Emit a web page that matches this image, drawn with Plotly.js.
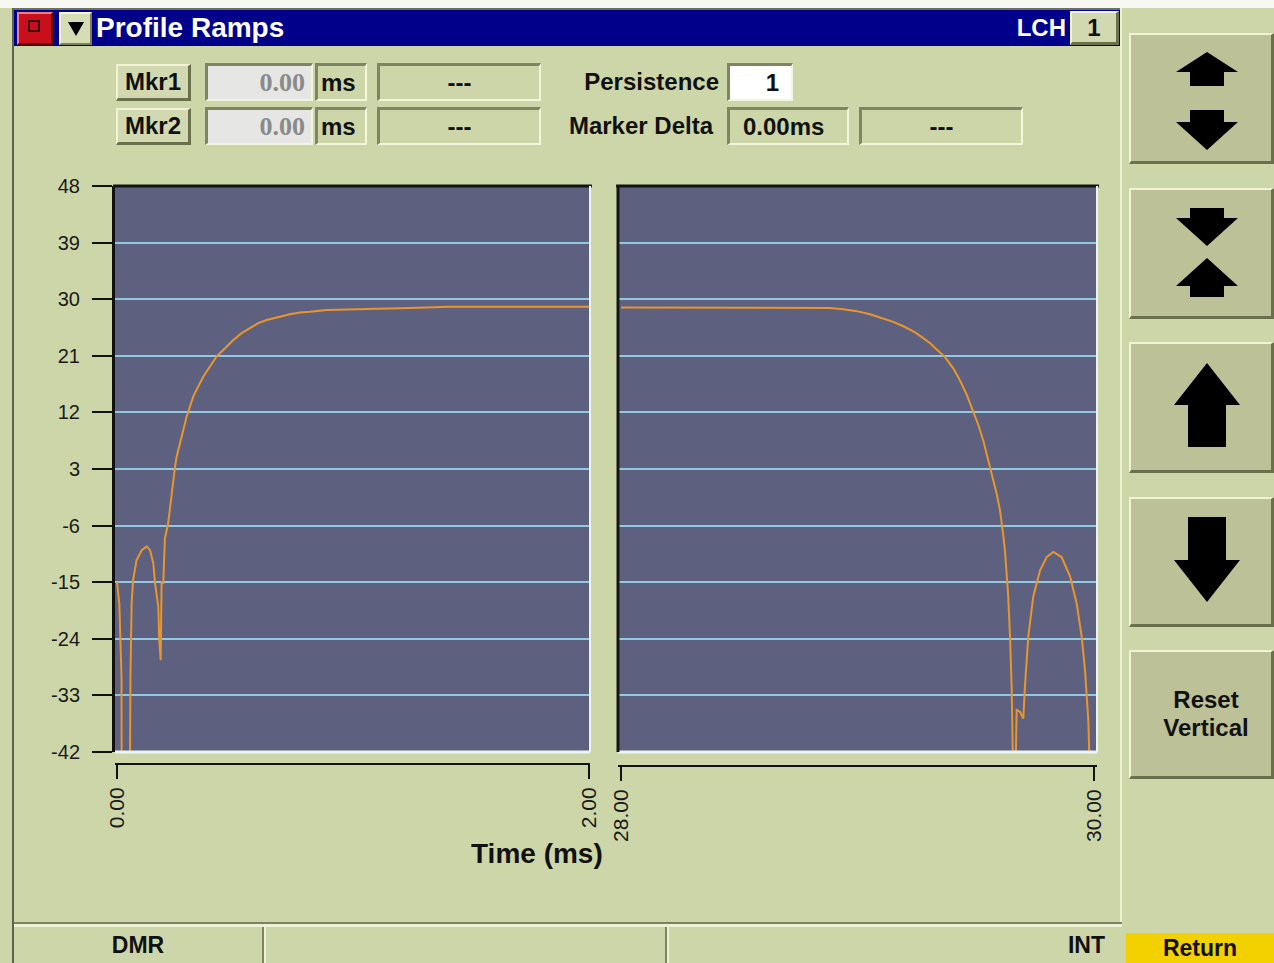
<!DOCTYPE html>
<html><head><meta charset="utf-8">
<script src="https://cdn.plot.ly/plotly-3.0.1.min.js"></script>
<style>
html,body{margin:0;padding:0;width:1274px;height:963px;overflow:hidden;background:#cdd6a9;font-family:"Liberation Sans",Arial,sans-serif;}
#chrome{position:absolute;left:0;top:0;width:1274px;height:963px;}
#plot{position:absolute;left:0;top:0;width:1274px;height:963px;}
.a{position:absolute;box-sizing:border-box;}
.raised{border-style:solid;border-width:2px 3px 3px 2px;border-color:#f1f4d2 #6a6f4c #6a6f4c #f1f4d2;}
.sunken{border-style:solid;border-width:3px 2px 2px 3px;border-color:#7f8462 #f3f6da #f3f6da #7f8462;}
.t{font-weight:bold;font-size:24px;color:#111;line-height:1;white-space:nowrap;display:flex;align-items:center;}
.btn{background:#bcc197;}
</style></head>
<body>
<div id="chrome">
  <div class="a" style="left:0;top:0;width:1274px;height:8px;background:#f7f8f2;"></div>
  <div class="a" style="left:12px;top:8px;width:2px;height:955px;background:#5e6150;"></div>
  <div class="a" style="left:14px;top:8px;width:1108px;height:2px;background:#6d6f63;"></div>
  <div class="a" style="left:1120px;top:8px;width:2px;height:918px;background:#eef2d0;"></div>
  <!-- title bar -->
  <div class="a" style="left:14px;top:10px;width:1106px;height:36px;background:#00008a;"></div>
  <div class="a" style="left:17px;top:12px;width:36px;height:33px;background:#c8101c;border:2px solid;border-color:#f08080 #600000 #600000 #f08080;"></div>
  <div class="a" style="left:28px;top:20px;width:12px;height:12px;border:2px solid #400000;"></div>
  <div class="a" style="left:59px;top:12px;width:33px;height:33px;background:#d6dcb4;border:2px solid;border-color:#f6f8e4 #7a7f5c #7a7f5c #f6f8e4;"></div>
  <svg class="a" style="left:66px;top:19px;" width="20" height="20"><polygon points="2,3 18,3 10,17" fill="#000"/></svg>
  <div class="a t" style="left:96px;top:10px;height:36px;color:#fff;font-size:28px;">Profile Ramps</div>
  <div class="a t" style="left:1010px;top:10px;width:56px;height:36px;color:#fff;justify-content:flex-end;">LCH</div>
  <div class="a t raised" style="left:1070px;top:11px;width:49px;height:34px;background:#d2d9b0;justify-content:center;">1</div>

  <!-- controls row 1 -->
  <div class="a t raised" style="left:116px;top:64px;width:75px;height:37px;background:#d2d9b0;justify-content:center;">Mkr1</div>
  <div class="a t sunken" style="left:205px;top:63px;width:108px;height:38px;background:#e6e6e4;justify-content:flex-end;padding-right:6px;font-family:'Liberation Serif',serif;color:#8a8a8a;font-size:26px;">0.00</div>
  <div class="a t sunken" style="left:315px;top:63px;width:52px;height:38px;justify-content:flex-start;padding-left:3px;">ms</div>
  <div class="a t sunken" style="left:377px;top:63px;width:164px;height:38px;justify-content:center;">---</div>
  <div class="a t" style="left:540px;top:63px;width:179px;height:38px;justify-content:flex-end;">Persistence</div>
  <div class="a t sunken" style="left:727px;top:63px;width:66px;height:38px;background:#ffffff;justify-content:flex-end;padding-right:12px;">1</div>
  <!-- controls row 2 -->
  <div class="a t raised" style="left:116px;top:108px;width:75px;height:37px;background:#d2d9b0;justify-content:center;">Mkr2</div>
  <div class="a t sunken" style="left:205px;top:107px;width:108px;height:38px;background:#e6e6e4;justify-content:flex-end;padding-right:6px;font-family:'Liberation Serif',serif;color:#8a8a8a;font-size:26px;">0.00</div>
  <div class="a t sunken" style="left:315px;top:107px;width:52px;height:38px;justify-content:flex-start;padding-left:3px;">ms</div>
  <div class="a t sunken" style="left:377px;top:107px;width:164px;height:38px;justify-content:center;">---</div>
  <div class="a t" style="left:540px;top:107px;width:173px;height:38px;justify-content:flex-end;">Marker Delta</div>
  <div class="a t sunken" style="left:727px;top:107px;width:122px;height:38px;justify-content:flex-start;padding-left:13px;">0.00ms</div>
  <div class="a t sunken" style="left:859px;top:107px;width:164px;height:38px;justify-content:center;">---</div>

  <!-- right buttons -->
  <div class="a btn raised" style="left:1129px;top:33px;width:145px;height:131px;"></div>
  <div class="a btn raised" style="left:1129px;top:188px;width:145px;height:131px;"></div>
  <div class="a btn raised" style="left:1129px;top:342px;width:145px;height:131px;"></div>
  <div class="a btn raised" style="left:1129px;top:497px;width:145px;height:130px;"></div>
  <div class="a btn raised t" style="left:1129px;top:650px;width:145px;height:129px;flex-direction:column;justify-content:center;line-height:28px;text-align:center;padding-left:10px;"><span>Reset</span><span>Vertical</span></div>
  <svg class="a" style="left:0;top:0;" width="1274" height="963">
    <polygon points="1207,52 1238,72 1224,72 1224,86 1190,86 1190,72 1176,72" fill="#000"/>
    <polygon points="1190,110 1224,110 1224,122 1238,122 1207,150 1176,122 1190,122" fill="#000"/>
    <polygon points="1190,208 1224,208 1224,218 1238,218 1207,246 1176,218 1190,218" fill="#000"/>
    <polygon points="1207,258 1238,286 1224,286 1224,297 1190,297 1190,286 1176,286" fill="#000"/>
    <polygon points="1207,363 1240,405 1226,405 1226,447 1188,447 1188,405 1174,405" fill="#000"/>
    <polygon points="1188,517 1226,517 1226,560 1240,560 1207,602 1174,560 1188,560" fill="#000"/>
  </svg>

  <!-- status bar -->
  <div class="a" style="left:14px;top:922px;width:1108px;height:2px;background:#7d8262;"></div>
  <div class="a" style="left:14px;top:924px;width:1108px;height:3px;background:#eef2d2;"></div>
  <div class="a t" style="left:14px;top:928px;width:248px;height:35px;justify-content:center;font-size:23px;">DMR</div>
  <div class="a" style="left:262px;top:927px;width:2px;height:36px;background:#7d8262;"></div>
  <div class="a" style="left:264px;top:927px;width:2px;height:36px;background:#eef2d2;"></div>
  <div class="a" style="left:665px;top:927px;width:2px;height:36px;background:#7d8262;"></div>
  <div class="a" style="left:667px;top:927px;width:2px;height:36px;background:#eef2d2;"></div>
  <div class="a t" style="left:667px;top:928px;width:438px;height:35px;justify-content:flex-end;font-size:23px;">INT</div>
  <div class="a t" style="left:1126px;top:933px;width:148px;height:30px;background:#f3d000;justify-content:center;font-size:23px;">Return</div>
</div>
<div id="plot"></div>
<script>
// ---- data ----
const leftTime  = [0.000, 0.010, 0.019, 0.020, 0.054, 0.057, 0.062, 0.068, 0.083, 0.105, 0.126, 0.140, 0.154, 0.161, 0.175, 0.179, 0.185, 0.189, 0.196, 0.203, 0.217, 0.225, 0.232, 0.239, 0.246, 0.253, 0.267, 0.281, 0.295, 0.309, 0.323, 0.344, 0.366, 0.394, 0.422, 0.458, 0.493, 0.528, 0.564, 0.599, 0.634, 0.683, 0.733, 0.775, 0.818, 0.889, 0.959, 1.100, 1.242, 1.411, 2.000];
const leftLevel = [-15.0, -18.5, -30.0, -50.0, -50.0, -30.0, -18.3, -14.7, -11.5, -9.9, -9.3, -9.9, -12.0, -15.1, -18.9, -24.2, -27.4, -15.0, -15.1, -8.0, -5.6, -3.0, -0.3, 1.8, 3.4, 5.0, 7.1, 9.2, 11.3, 12.9, 14.5, 16.1, 17.7, 19.3, 20.9, 22.2, 23.5, 24.6, 25.4, 26.2, 26.7, 27.2, 27.6, 27.9, 28.0, 28.3, 28.4, 28.5, 28.6, 28.8, 28.8];
const rightTime  = [28.000, 28.757, 28.884, 28.940, 28.997, 29.053, 29.102, 29.151, 29.194, 29.236, 29.271, 29.307, 29.335, 29.370, 29.405, 29.433, 29.462, 29.490, 29.511, 29.532, 29.546, 29.567, 29.589, 29.603, 29.610, 29.617, 29.624, 29.637, 29.645, 29.652, 29.660, 29.666, 29.673, 29.687, 29.701, 29.708, 29.722, 29.743, 29.772, 29.800, 29.828, 29.863, 29.899, 29.927, 29.948, 29.962, 29.976, 29.986];
const rightLevel = [28.7, 28.7, 28.6, 28.4, 28.1, 27.6, 27.0, 26.4, 25.7, 24.9, 24.0, 23.0, 22.0, 20.8, 19.0, 17.1, 14.8, 12.2, 10.0, 7.5, 5.5, 2.5, -1.0, -3.7, -5.5, -7.7, -10.3, -17.0, -23.7, -32.1, -50.0, -50.0, -35.3, -35.6, -36.7, -31.6, -23.7, -17.3, -13.1, -11.0, -10.2, -11.0, -14.1, -18.4, -23.7, -29.0, -37.0, -50.0];
const yTickValues = [-42, -33, -24, -15, -6, 3, 12, 21, 30, 39, 48];
const yTickLabels = ['-42', '-33', '-24', '-15', '-6', '3', '12', '21', '30', '39', '48'];
const leftTickValues = [0, 2];
const leftTickLabels = ['0.00', '2.00'];
const rightTickValues = [28, 30];
const rightTickLabels = ['28.00', '30.00'];
const xTitle = 'Time (ms)';

const W = 1274, H = 963;
const lineColor = '#e8962a';
const tickFont = {family: 'Liberation Sans, Arial, sans-serif', size: 20, color: '#1a1a1a'};
const xTickFont = {family: 'Liberation Sans, Arial, sans-serif', size: 21, color: '#1a1a1a'};

const traces = [
  {x: leftTime, y: leftLevel, xaxis: 'x', yaxis: 'y', mode: 'lines', line: {color: lineColor, width: 2}, hoverinfo: 'skip'},
  {x: rightTime, y: rightLevel, xaxis: 'x2', yaxis: 'y', mode: 'lines', line: {color: lineColor, width: 2}, hoverinfo: 'skip'}
];

const xCommon = {showgrid: false, zeroline: false, showline: true, linecolor: '#111', linewidth: 2,
  ticks: 'outside', ticklen: 14, tickwidth: 2, tickcolor: '#111', tickangle: -90, tickfont: xTickFont, fixedrange: true};

function frame(xr, leftDark) {
  const s = [];
  s.push({type: 'line', xref: xr, yref: 'y domain', x0: -0.004, x1: 1.004, y0: 1, y1: 1, line: {color: '#141414', width: 3}});
  s.push({type: 'line', xref: xr, yref: 'y domain', x0: 0, x1: 1, y0: 0, y1: 0, line: {color: '#eaf6f8', width: 3}});
  s.push({type: 'line', xref: xr, yref: 'y domain', x0: 1, x1: 1, y0: 0, y1: 1, line: {color: '#eef4f0', width: 2}});
  if (leftDark) s.push({type: 'line', xref: xr, yref: 'y domain', x0: 0, x1: 0, y0: 0, y1: 1, line: {color: '#141414', width: 3}});
  return s;
}

const layout = {
  width: W, height: H, margin: {l: 0, r: 0, t: 0, b: 0},
  paper_bgcolor: 'rgba(0,0,0,0)', plot_bgcolor: '#5e6080',
  showlegend: false, hovermode: false,
  xaxis: Object.assign({}, xCommon, {domain: [115 / W, 590 / W], range: [-2 / 236, 2 + 1 / 236],
    anchor: 'free', position: 1 - 764 / H, tickvals: leftTickValues, ticktext: leftTickLabels}),
  xaxis2: Object.assign({}, xCommon, {domain: [618 / W, 1097 / W], range: [28 - 3 / 236.5, 30 + 3 / 236.5],
    anchor: 'free', position: 1 - 766 / H, tickvals: rightTickValues, ticktext: rightTickLabels}),
  yaxis: {domain: [1 - 752 / H, 1 - 186 / H], range: [-42, 48], anchor: 'x', tickvals: yTickValues, ticktext: yTickLabels,
    showgrid: true, gridcolor: '#92c8e2', gridwidth: 2, zeroline: false,
    showline: true, linecolor: '#111', linewidth: 3, ticks: 'outside', ticklen: 20, tickwidth: 2, tickcolor: '#111',
    tickfont: tickFont, ticklabelstandoff: 8, fixedrange: true},
  shapes: frame('x domain', false).concat(frame('x2 domain', true)),
  annotations: [{text: '<b>' + xTitle + '</b>', xref: 'paper', yref: 'paper', x: 537 / W, y: 1 - 853 / H,
    xanchor: 'center', yanchor: 'middle', showarrow: false,
    font: {family: 'Liberation Sans, Arial, sans-serif', size: 28, color: '#111'}}]
};

Plotly.newPlot('plot', traces, layout, {displayModeBar: false, staticPlot: true});
</script>
</body></html>
